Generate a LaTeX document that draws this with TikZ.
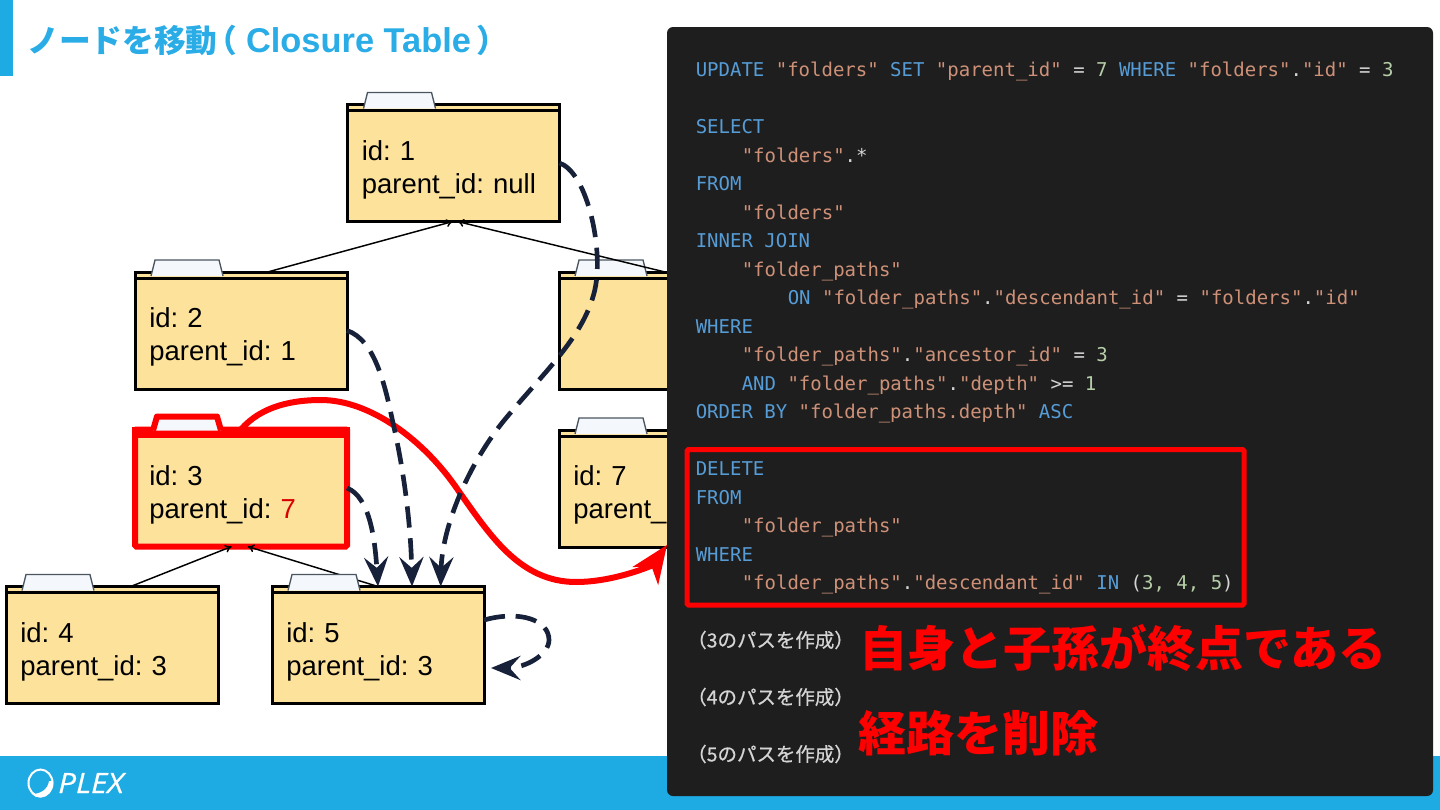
\documentclass[tikz,border=0pt]{standalone}
\usepackage{fontspec}
\setmainfont{Liberation Sans}
\setmonofont{DejaVu Sans Mono}
\newfontfamily\cjkfont{Noto Sans CJK JP}
\newfontfamily\cjkmidfont[FakeBold=0.6]{Noto Sans CJK JP}
\newfontfamily\logofont[FakeStretch=1.12,FakeBold=0.5]{Open Sans}
\usetikzlibrary{arrows.meta}
\frenchspacing

\definecolor{plexblue}{HTML}{1EAAE2}
\definecolor{titleblue}{HTML}{2AACE6}
\definecolor{foldergold}{HTML}{FDE29B}
\definecolor{tabwhite}{HTML}{F4F7FB}
\definecolor{tabedge}{HTML}{4A5560}
\definecolor{pathnavy}{HTML}{18213A}
\definecolor{panelbg}{HTML}{1E1E1E}
\definecolor{codeblue}{HTML}{569CD6}
\definecolor{codestr}{HTML}{CE9178}
\definecolor{codenum}{HTML}{B5CEA8}
\definecolor{codetext}{HTML}{D4D4D4}
\definecolor{markred}{HTML}{FF0000}

\newcommand\sqlkw[1]{\textcolor{codeblue}{#1}}
\newcommand\sqlstr[1]{\textcolor{codestr}{#1}}
\newcommand\sqlnum[1]{\textcolor{codenum}{#1}}

\tikzset{
  folder/.style={draw=black,line width=2.25pt,fill=foldergold,inner sep=0pt,outer sep=0pt,
    minimum width=159pt,minimum height=87.75pt,text width=137.5pt,align=left,
    font=\fontsize{20.6pt}{25pt}\selectfont,execute at begin node={\rule{0pt}{25pt}}},
  redfolder/.style={folder,draw=markred,line width=4.5pt,rounded corners=1pt},
  foldertab/.style={fill=tabwhite,draw=tabedge,line width=1pt},
  redtab/.style={fill=tabwhite,draw=markred,line width=4.5pt,line join=round},
  childline/.style={draw=black,line width=1.1pt,-{To[length=5pt,width=6pt]}},
  pathline/.style={draw=pathnavy,line width=3.5pt,dash pattern=on 16pt off 8pt,
    -{Stealth[length=22pt,width=18pt,inset=8pt]}},
  moveline/.style={draw=markred,line width=4.5pt,
    -{Stealth[length=28pt,width=23pt,inset=8pt]}},
  codeline/.style={anchor=base west,inner sep=0pt,text=codetext,font=\ttfamily\fontsize{14.25pt}{17pt}\selectfont},
  pathnote/.style={anchor=west,inner sep=0pt,text=codetext,font=\cjkmidfont\fontsize{14.6pt}{16pt}\selectfont},
  bignote/.style={anchor=west,inner sep=0pt,text=markred,font=\cjkfont\bfseries\fontsize{36pt}{40pt}\selectfont},
}

\begin{document}
\begin{tikzpicture}[x=0.75pt,y=0.75pt,yscale=-1,xscale=1]
\useasboundingbox (0,0) rectangle (1440,810);

% Bars
\fill[plexblue] (0,756) rectangle (1440,810);
\fill[plexblue] (0,0) rectangle (13,76);

% Title
\node [anchor=west,inner sep=0pt,text=titleblue] (title) at (27,40)
  {\cjkfont\bfseries\fontsize{23.8pt}{28pt}\selectfont ノードを移動\kern-9pt（\kern6.5pt{\rmfamily\fontsize{25.8pt}{28pt}\selectfont Closure Table}\kern4pt）};

% Logo
\draw[white,line width=1.5pt] (40.5,783) ellipse [x radius=12,y radius=13.5];
\fill[white] (53,781) .. controls (54,790) and (47,797.5) .. (40,797.5) .. controls (37,797.5) and (34,796.5) .. (32,794) .. controls (41,794) and (48,789) .. (49,781) -- cycle;
\node [anchor=west,inner sep=0pt,text=white] (logo) at (58,783) {\logofont\itshape\fontsize{21pt}{24pt}\selectfont PLEX};

% Folders
\node [folder] (f1) at (453.5,163) {id: 1\\parent\_id: null};
\node [folder] (f2) at (241,330.5) {id: 2\\parent\_id: 1};
\node [folder] (f6) at (665,330.5) {};
\node [folder] (f7) at (665,488.5) {id: 7\\parent\_};
\node [folder] (f4) at (112,645) {id: 4\\parent\_id: 3};
\node [folder] (f5) at (378,645) {id: 5\\parent\_id: 3};
\node [redfolder] (f3) at (241,488) {id: 3\\parent\_id: \textcolor{red!85!black}{7}};

% Connection
\draw [childline] ([xshift=20pt]f2.north) -- ([xshift=-0.5pt]f1.south);
\draw [childline] ([xshift=14pt]f4.north) -- ([xshift=-7pt]f3.south);
\draw [childline] (f5.north) -- ([xshift=5pt]f3.south);

% Folder tops
\foreach \f in {f1,f2,f4,f5,f6,f7} {
  \draw[black,line width=2.25pt] ([shift={(0,6)}]\f.north west) -- ([shift={(0,6)}]\f.north east);
  \path[foldertab] ([shift={(16,4)}]\f.north west) -- ++(4,-16) -- ++(64,0) -- ++(4,16);
}
\fill[markred] ([shift={(-3,-3)}]f3.north west) rectangle ([shift={(3,8)}]f3.north east);
\path[redtab] ([shift={(18,1)}]f3.north west) -- ++(4,-14) -- ++(60,0) -- ++(4,14);

% Connection over the folder
\draw [childline] (f6.north) -- ([xshift=3pt]f1.south);

% Panel
\fill[panelbg,rounded corners=4.5pt] (667,27) rectangle (1433,796);
\coordinate (moveend) at (667,545);

% Moved path
\draw [moveline] (f3.north) .. controls (262,405) and (295,400) .. (321,400)
  .. controls (370,400) and (425,440) .. (460,493)
  .. controls (490,535) and (520,582) .. (576,582)
  .. controls (615,582) and (653,565) .. (moveend);

% Dashed paths
\draw [pathline] (f1.east) .. controls (585,172) and (600,235) .. (597,275)
  .. controls (593,330) and (545,370) .. (502,423)
  .. controls (465,470) and (442,530) .. ([xshift=47pt]f5.north);
\draw [pathline] (f2.east) .. controls (375,340) and (385,385) .. (393,423)
  .. controls (405,475) and (411,530) .. ([xshift=25.5pt]f5.north);
\draw [pathline] (f3.east) .. controls (370,497) and (375,540) .. (f5.north);
\draw [pathline] ([shift={(0,-25)}]f5.east) .. controls (520,610) and (549,620) .. (549,640)
  .. controls (549,655) and (525,668) .. ([shift={(7,23)}]f5.east);

% Code
\node [codeline] (c1) at (695.5,76) {\sqlkw{UPDATE} \sqlstr{"folders"} \sqlkw{SET} \sqlstr{"parent\_id"} = \sqlnum{7} \sqlkw{WHERE} \sqlstr{"folders"}.\sqlstr{"id"} = \sqlnum{3}};
\node [codeline] (c2) at (695.5,133) {\sqlkw{SELECT}};
\node [codeline] (c3) at (741.5,162) {\sqlstr{"folders"}.*};
\node [codeline] (c4) at (695.5,190) {\sqlkw{FROM}};
\node [codeline] (c5) at (741.5,219) {\sqlstr{"folders"}};
\node [codeline] (c6) at (695.5,247) {\sqlkw{INNER JOIN}};
\node [codeline] (c7) at (741.5,276) {\sqlstr{"folder\_paths"}};
\node [codeline] (c8) at (787.5,304) {\sqlkw{ON} \sqlstr{"folder\_paths"}.\sqlstr{"descendant\_id"} = \sqlstr{"folders"}.\sqlstr{"id"}};
\node [codeline] (c9) at (695.5,333) {\sqlkw{WHERE}};
\node [codeline] (c10) at (741.5,361) {\sqlstr{"folder\_paths"}.\sqlstr{"ancestor\_id"} = \sqlnum{3}};
\node [codeline] (c11) at (741.5,390) {\sqlkw{AND} \sqlstr{"folder\_paths"}.\sqlstr{"depth"} >= \sqlnum{1}};
\node [codeline] (c12) at (695.5,418) {\sqlkw{ORDER BY} \sqlstr{"folder\_paths.depth"} \sqlkw{ASC}};
\node [codeline] (c13) at (695.5,475) {\sqlkw{DELETE}};
\node [codeline] (c14) at (695.5,504) {\sqlkw{FROM}};
\node [codeline] (c15) at (741.5,532) {\sqlstr{"folder\_paths"}};
\node [codeline] (c16) at (695.5,561) {\sqlkw{WHERE}};
\node [codeline] (c17) at (741.5,589) {\sqlstr{"folder\_paths"}.\sqlstr{"descendant\_id"} \sqlkw{IN} (\sqlnum{3, 4, 5})};

% Red frame
\draw[markred,line width=3.75pt,rounded corners=1pt] (687,449.5) rectangle (1244,605);

% Notes
\node [pathnote] (n3) at (687,640) {（3のパスを作成）};
\node [pathnote] (n4) at (687,697) {（4のパスを作成）};
\node [pathnote] (n5) at (687,754) {（5のパスを作成）};
\node [bignote] (big1) at (859,648) {自身と子孫が終点である};
\node [bignote] (big2) at (858,733) {経路を削除};

\end{tikzpicture}
\end{document}
